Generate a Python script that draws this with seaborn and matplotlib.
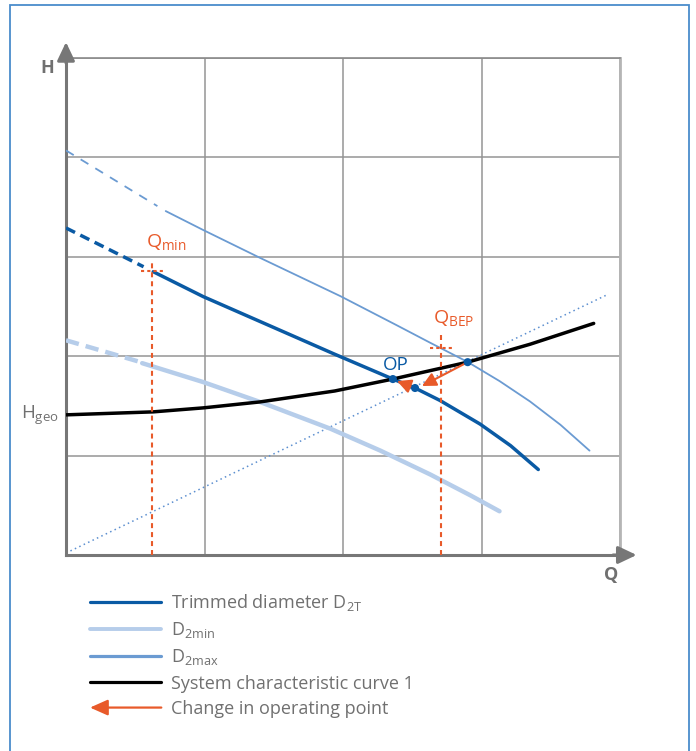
import matplotlib.pyplot as plt
import seaborn as sns
from matplotlib.lines import Line2D
from matplotlib.patches import FancyArrowPatch, Rectangle
from matplotlib.legend_handler import HandlerBase

# =========================================================
# DATA (Q and H in grid units)
# =========================================================
# D2max - dashed extension then the solid curve
d2max_ext_q = [0.0, 0.66]
d2max_ext_h = [4.07, 3.51]
d2max_q = [0.72, 0.99, 1.40, 1.98, 2.39, 2.63, 2.90, 3.13, 3.35, 3.57, 3.78]
d2max_h = [3.46, 3.27, 2.99, 2.605, 2.31, 2.135, 1.942, 1.75, 1.545, 1.31, 1.05]

# trimmed diameter D2T
d2t_ext_q = [0.0, 0.56]
d2t_ext_h = [3.29, 2.90]
d2t_q = [0.63, 0.99, 1.94, 2.36, 2.52, 2.70, 2.99, 3.21, 3.41]
d2t_h = [2.85, 2.60, 2.02, 1.77, 1.68, 1.555, 1.317, 1.10, 0.86]

# D2min
d2min_ext_q = [0.0, 0.54]
d2min_ext_h = [2.16, 1.94]
d2min_q = [0.55, 0.99, 1.40, 1.91, 2.27, 2.63, 2.92, 3.13]
d2min_h = [1.93, 1.74, 1.54, 1.27, 1.05, 0.81, 0.60, 0.44]

# system characteristic curve 1
system_q = [0.0, 0.63, 0.99, 1.40, 1.94, 2.36, 2.90, 3.35, 3.81]
system_h = [1.41, 1.44, 1.48, 1.54, 1.65, 1.77, 1.94, 2.12, 2.33]

# dotted line from the origin
dotted_q = [0.0, 3.91]
dotted_h = [0.02, 2.62]

# operating points (OP, trimmed point, BEP intersection)
op_q = [2.36, 2.52, 2.90]
op_h = [1.77, 1.68, 1.94]

# change in operating point arrows (start -> end)
arrow_start = [(2.90, 1.94), (2.50, 1.69)]
arrow_end = [(2.57, 1.70), (2.39, 1.75)]

q_min = 0.62
q_bep = 2.71

legend_labels = [
    r"Trimmed diameter D$_{2T}$",
    r"D$_{2min}$",
    r"D$_{2max}$",
    "System characteristic curve 1",
    "Change in operating point",
]

# colours
DARK = "#0a5aa4"
MID = "#6b9bd2"
LIGHT = "#b6cdea"
ORANGE = "#e85a2a"
GREY = "#707070"

# =========================================================
# FIGURE
# =========================================================
sns.set_style("white")
plt.rcParams["font.family"] = ["Open Sans", "DejaVu Sans"]
plt.rcParams["mathtext.default"] = "regular"

fig = plt.figure(figsize=(6.96, 7.51), dpi=100)
ax = fig.add_axes([66 / 696, 196 / 751, 554 / 696, 497 / 751])

# curves
sns.lineplot(x=dotted_q, y=dotted_h, ax=ax, color="#5c8fd0", lw=1.1,
             linestyle=(0, (1, 2.2)), estimator=None, sort=False, zorder=2)
sns.lineplot(x=d2min_ext_q, y=d2min_ext_h, ax=ax, color=LIGHT, lw=3.2,
             linestyle=(0, (3.0, 1.6)), estimator=None, sort=False, zorder=3)
sns.lineplot(x=d2min_q, y=d2min_h, ax=ax, color=LIGHT, lw=3.2,
             estimator=None, sort=False, zorder=3)
sns.lineplot(x=d2max_ext_q, y=d2max_ext_h, ax=ax, color=MID, lw=1.3,
             linestyle=(0, (5, 4.5)), estimator=None, sort=False, zorder=3)
sns.lineplot(x=d2max_q, y=d2max_h, ax=ax, color=MID, lw=1.3,
             estimator=None, sort=False, zorder=3)
sns.lineplot(x=d2t_ext_q, y=d2t_ext_h, ax=ax, color=DARK, lw=2.5,
             linestyle=(0, (2.9, 1.7)), estimator=None, sort=False, zorder=4)
sns.lineplot(x=d2t_q, y=d2t_h, ax=ax, color=DARK, lw=2.5,
             estimator=None, sort=False, zorder=4)
sns.lineplot(x=system_q, y=system_h, ax=ax, color="black", lw=2.5,
             estimator=None, sort=False, zorder=5)

# Qmin / QBEP markers
ax.plot([q_min, q_min], [0, 2.95], color=ORANGE, lw=1.5,
        linestyle=(0, (2.4, 1.9)), zorder=6)
ax.plot([q_min - 0.08, q_min + 0.09], [2.86, 2.86], color=ORANGE, lw=1.5,
        linestyle=(0, (1.5, 1.5)), zorder=6)
ax.plot([q_bep, q_bep], [0, 2.21], color=ORANGE, lw=1.5,
        linestyle=(0, (2.4, 1.9)), zorder=6)
ax.plot([q_bep - 0.08, q_bep + 0.09], [2.08, 2.08], color=ORANGE, lw=1.5,
        linestyle=(0, (1.5, 1.5)), zorder=6)

# arrows
for (x0, y0), (x1, y1) in zip(arrow_start, arrow_end):
    ax.annotate("", xy=(x1, y1), xytext=(x0, y0),
                arrowprops=dict(arrowstyle="-|>,head_length=0.7,head_width=0.35",
                                mutation_scale=12, color=ORANGE, lw=1.5,
                                shrinkA=0, shrinkB=0), zorder=7)

sns.scatterplot(x=op_q, y=op_h, ax=ax, color=DARK, s=34, edgecolor="none",
                zorder=8)

# labels
ax.text(0.578, 3.10, r"Q$_{min}$", color=ORANGE, fontsize=14, va="baseline")
ax.text(2.65, 2.33, r"Q$_{BEP}$", color=ORANGE, fontsize=14, va="baseline")
ax.text(2.285, 1.86, "OP", color=DARK, fontsize=13.5, va="baseline")
ax.text(-0.325, 1.37, r"H$_{geo}$", color=GREY, fontsize=13.5, va="baseline")
ax.text(-0.185, 4.85, "H", color=GREY, fontsize=13, fontweight="bold",
        va="baseline")
ax.text(3.885, -0.25, "Q", color=GREY, fontsize=13, fontweight="bold",
        va="baseline")

# grid and axes
ax.set_xlim(0, 4)
ax.set_ylim(0, 5)
ax.set_xticks(range(0, 5))
ax.set_yticks(range(0, 6))
ax.set_xticklabels([])
ax.set_yticklabels([])
ax.tick_params(length=0)
ax.grid(True, color="#949494", lw=1.1)
for side in ["left", "bottom"]:
    ax.spines[side].set_color("#777777")
    ax.spines[side].set_linewidth(2.2)
ax.spines["top"].set_color("#8a8a8a")
ax.spines["top"].set_linewidth(1.2)
ax.spines["right"].set_color("#b5b5b5")
ax.spines["right"].set_linewidth(2.0)

ax.annotate("", xy=(4.12, 0), xytext=(3.95, 0), annotation_clip=False,
            arrowprops=dict(arrowstyle="-|>,head_length=0.8,head_width=0.38",
                            mutation_scale=14, color="#777777", lw=2.2,
                            shrinkA=0, shrinkB=0))
ax.annotate("", xy=(0, 5.16), xytext=(0, 4.95), annotation_clip=False,
            arrowprops=dict(arrowstyle="-|>,head_length=0.8,head_width=0.38",
                            mutation_scale=14, color="#777777", lw=2.2,
                            shrinkA=0, shrinkB=0))


# legend
class ArrowHandler(HandlerBase):
    def create_artists(self, legend, orig_handle, xdescent, ydescent,
                       width, height, fontsize, trans):
        y = (height - ydescent) / 2
        arr = FancyArrowPatch((width - xdescent, y), (-xdescent, y),
                              arrowstyle="-|>,head_length=0.9,head_width=0.4",
                              mutation_scale=12, color=ORANGE, lw=1.6,
                              shrinkA=0, shrinkB=0, transform=trans)
        return [arr]


arrow_key = FancyArrowPatch((0, 0), (1, 0))
handles = [
    Line2D([], [], color=DARK, lw=2.3),
    Line2D([], [], color=LIGHT, lw=2.8),
    Line2D([], [], color=MID, lw=2.3),
    Line2D([], [], color="black", lw=2.3),
    arrow_key,
]
fig.legend(handles, legend_labels, loc="upper left",
           bbox_to_anchor=(90 / 696, 1 - 592 / 751), frameon=False,
           fontsize=13, labelcolor=GREY, handlelength=3.95,
           handletextpad=0.55, labelspacing=0.4, borderpad=0,
           borderaxespad=0, handler_map={arrow_key: ArrowHandler()})

# blue frame round the figure
fig.patches.append(Rectangle((10 / 696, -0.05), 679 / 696, 1.0433,
                             transform=fig.transFigure, fill=False,
                             ec="#4a8ccc", lw=1.3))

fig.savefig("out.png", dpi=100)
plt.close(fig)
